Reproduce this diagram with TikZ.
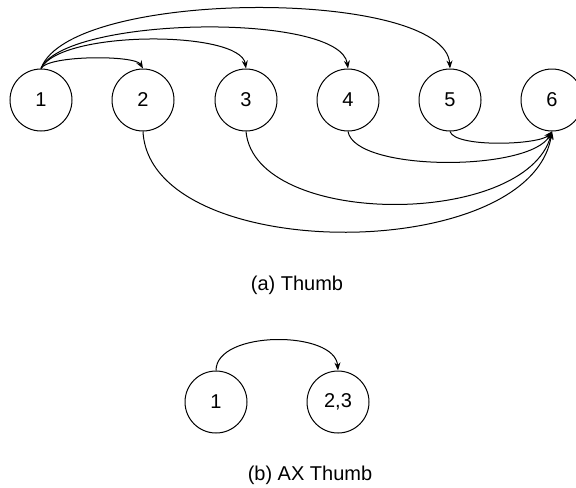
\documentclass[tikz,border=0pt]{standalone}
\usepackage{fontspec}
\setmainfont{Liberation Sans}
\usetikzlibrary{arrows.meta}
\tikzstyle{state} = [circle, draw, line width=0.5pt, minimum size=31pt, inner sep=0pt, font=\fontsize{10}{12}\selectfont]
\tikzstyle{arrow} = [line width=0.5pt, -{Stealth[length=4pt,width=3pt]}]
\tikzstyle{caption} = [font=\fontsize{10}{12}\selectfont]
\begin{document}
\begin{tikzpicture}[x=0.5pt,y=-0.5pt]
\useasboundingbox (0,0) rectangle (576,487);
\node[state] (t1) at (41,100) {1};
\node[state] (t2) at (143,100) {2};
\node[state] (t3) at (246,100) {3};
\node[state] (t4) at (348,100) {4};
\node[state] (t5) at (450,100) {5};
\node[state] (t6) at (552,100) {6};
\node[caption] (la) at (297,285) {(a) Thumb};
\node[state] (b1) at (216,402) {1};
\node[state] (b23) at (338,402) {2,3};
\node[caption] (lb) at (310,475) {(b) AX Thumb};
\draw[arrow] (t1.north) .. controls (48,55) and (135,55) .. (t2.north);
\draw[arrow] (t1.north) .. controls (60,30) and (240,30) .. (t3.north);
\draw[arrow] (t1.north) .. controls (65,16) and (340,12) .. (t4.north);
\draw[arrow] (t1.north) .. controls (70,-12) and (445,-12) .. (t5.north);
\draw[arrow] (t5.south) .. controls (455,148) and (540,145) .. (t6.south);
\draw[arrow] (t4.south) .. controls (355,172) and (530,172) .. (t6.south);
\draw[arrow] (t3.south) .. controls (255,228) and (525,228) .. (t6.south);
\draw[arrow] (t2.south) .. controls (150,265) and (530,265) .. (t6.south);
\draw[arrow] (b1.north) .. controls (216,330) and (335,330) .. (b23.north);
\end{tikzpicture}
\end{document}
